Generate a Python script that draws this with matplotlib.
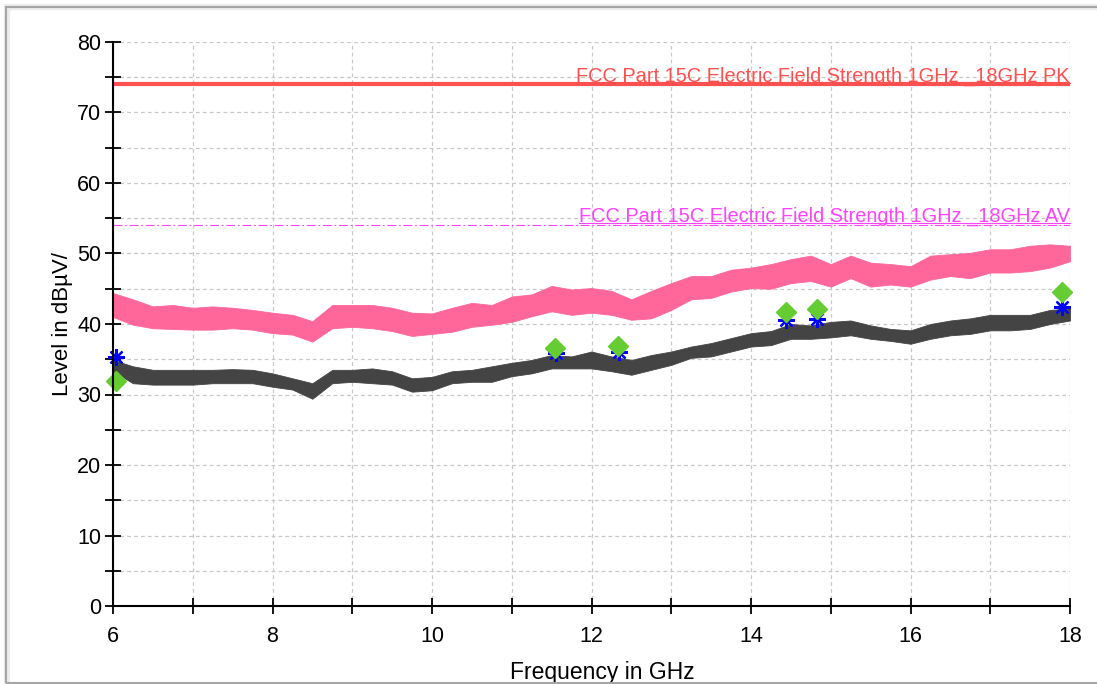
import matplotlib
matplotlib.use("Agg")
import matplotlib.pyplot as plt
from matplotlib.ticker import MultipleLocator, FuncFormatter
from matplotlib.lines import Line2D
from matplotlib.patches import Rectangle

plt.rcParams['font.family'] = ['Liberation Sans', 'DejaVu Sans']

# ---------------- data ----------------
freq = [6.0, 6.25, 6.5, 6.75, 7.0, 7.25, 7.5, 7.75, 8.0, 8.25, 8.5, 8.75,
        9.0, 9.25, 9.5, 9.75, 10.0, 10.25, 10.5, 10.75, 11.0, 11.25, 11.5, 11.75,
        12.0, 12.25, 12.5, 12.75, 13.0, 13.25, 13.5, 13.75, 14.0, 14.25, 14.5, 14.75,
        15.0, 15.25, 15.5, 15.75, 16.0, 16.25, 16.5, 16.75, 17.0, 17.25, 17.5, 17.75, 18.0]

pk_hi = [44.4, 43.5, 42.5, 42.7, 42.3, 42.5, 42.3, 42.0, 41.6, 41.3, 40.4, 42.7,
         42.7, 42.7, 42.3, 41.6, 41.5, 42.3, 43.0, 42.7, 43.9, 44.2, 45.4, 44.9,
         45.1, 44.7, 43.5, 44.7, 45.8, 46.8, 46.8, 47.7, 48.0, 48.5, 49.2, 49.7,
         48.5, 49.7, 48.7, 48.5, 48.2, 49.7, 49.9, 50.1, 50.6, 50.6, 51.1, 51.3, 51.1]
pk_lo = [41.0, 39.9, 39.4, 39.3, 39.2, 39.2, 39.4, 39.2, 38.7, 38.5, 37.5, 39.4,
         39.6, 39.4, 39.0, 38.3, 38.6, 38.9, 39.6, 39.9, 40.3, 41.1, 41.8, 41.3,
         41.6, 41.3, 40.6, 40.8, 42.0, 43.5, 43.7, 44.6, 45.1, 45.0, 45.8, 46.1,
         45.3, 46.5, 45.3, 45.6, 45.3, 46.3, 46.8, 46.5, 47.3, 47.3, 47.5, 48.0, 48.9]
av_hi = [34.9, 34.0, 33.5, 33.5, 33.5, 33.5, 33.6, 33.5, 33.0, 32.3, 31.6, 33.5,
         33.5, 33.7, 33.3, 32.3, 32.5, 33.3, 33.5, 34.0, 34.5, 34.9, 35.6, 35.4,
         36.1, 35.4, 34.9, 35.6, 36.1, 36.8, 37.3, 38.0, 38.7, 39.0, 40.0, 39.8,
         40.3, 40.5, 39.8, 39.3, 39.1, 40.0, 40.5, 40.8, 41.3, 41.3, 41.3, 42.0, 42.2]
av_lo = [33.3, 31.6, 31.4, 31.4, 31.4, 31.6, 31.6, 31.6, 31.1, 30.7, 29.4, 31.6,
         31.8, 31.6, 31.4, 30.4, 30.6, 31.6, 31.8, 31.8, 32.6, 33.0, 33.7, 33.7,
         33.7, 33.3, 32.8, 33.5, 34.2, 35.2, 35.4, 36.1, 36.8, 37.0, 37.9, 37.9,
         38.1, 38.4, 37.9, 37.6, 37.2, 37.9, 38.4, 38.6, 39.1, 39.1, 39.3, 40.0, 40.5]

pk_mark_f = [6.04, 11.54, 12.33, 14.44, 14.83, 17.90]
pk_mark_v = [31.9, 36.6, 36.9, 41.7, 42.1, 44.5]
av_mark_f = [6.04, 11.56, 12.35, 14.44, 14.83, 17.90]
av_mark_v = [35.3, 35.9, 36.0, 40.6, 40.7, 42.4]

limit_pk = 74.0
limit_av = 54.0
limit_pk_label = "FCC Part 15C Electric Field Strength 1GHz _18GHz PK"
limit_av_label = "FCC Part 15C Electric Field Strength 1GHz _18GHz AV"

x_min, x_max = 6, 18
y_min, y_max = 0, 80

# ---------------- figure ----------------
W, H = 1097, 684
fig = plt.figure(figsize=(W / 100, H / 100), dpi=100)
fig.patch.set_facecolor('white')

# outer frame
fig.add_artist(Rectangle((6.5 / W, -0.5), 2.0, 0.5 + (H - 7) / H, transform=fig.transFigure,
                         facecolor='none', edgecolor='#ececec', lw=4.5, zorder=0))
fig.add_artist(Rectangle((5.5 / W, 1 - 683 / H), 2.0, (683 - 7) / H, transform=fig.transFigure,
                         facecolor='none', edgecolor='#a6a6a6', lw=1.5, zorder=1))

ax = fig.add_axes([113 / W, 1 - 606 / H, (1070 - 113) / W, (606 - 42) / H])
ax.set_xlim(x_min, x_max)
ax.set_ylim(y_min, y_max)

for s in ['top', 'right']:
    ax.spines[s].set_visible(False)
for s in ['left', 'bottom']:
    ax.spines[s].set_linewidth(1.5)
    ax.spines[s].set_zorder(6)

ax.xaxis.set_major_locator(MultipleLocator(1))
ax.yaxis.set_major_locator(MultipleLocator(5))
ax.xaxis.set_major_formatter(FuncFormatter(lambda v, p: f"{int(round(v))}" if int(round(v)) % 2 == 0 else ""))
ax.yaxis.set_major_formatter(FuncFormatter(lambda v, p: f"{int(round(v))}" if int(round(v)) % 10 == 0 else ""))
ax.tick_params(axis='both', direction='inout', length=11, width=1.3, colors='black',
               labelsize=15.5)
ax.tick_params(axis='x', pad=9)
ax.tick_params(axis='y', pad=3)

ax.grid(True, which='major', color='#c8c8c8', linestyle=(0, (3, 2.5)), linewidth=0.9)
ax.set_axisbelow(True)

# traces
ax.fill_between(freq, pk_lo, pk_hi, color='#ff6699', linewidth=0.6, edgecolor='#ff6699', zorder=3)
ax.fill_between(freq, av_lo, av_hi, color='#444444', linewidth=0.6, edgecolor='#444444', zorder=3)

# limit lines
ax.axhline(limit_pk, color='#ff5050', linewidth=3, zorder=4)
av_line = ax.axhline(limit_av, color='#ff44ff', linewidth=0.8, zorder=4)
av_line.set_dashes([8, 2.5, 1.5, 2.5])

# markers
ax.plot(av_mark_f, av_mark_v, linestyle='none', marker=(8, 2, 0), markersize=12,
        markeredgewidth=1.6, color='#0000ff', zorder=5, clip_on=False)
ax.plot(pk_mark_f, pk_mark_v, linestyle='none', marker='D', markersize=10.5,
        color='#66cc33', markeredgecolor='#66cc33', zorder=6, clip_on=False)

# limit labels
t1 = ax.annotate(limit_pk_label, xy=(x_max, limit_pk), xytext=(0, 2), textcoords='offset points',
                 ha='right', va='baseline', color='#ff5050', fontsize=14.4, zorder=7)
t2 = ax.annotate(limit_av_label, xy=(x_max, limit_av), xytext=(0, 2.5), textcoords='offset points',
                 ha='right', va='baseline', color='#ff44ff', fontsize=14.4, zorder=7)

ax.set_xlabel("Frequency in GHz", fontsize=16.5, labelpad=10)
ax.xaxis.label.set_x(0.511)
ax.set_ylabel("Level in dBµV/", fontsize=16, labelpad=3)

# underline the limit labels
fig.canvas.draw()
r = fig.canvas.get_renderer()
for t, c in [(t1, '#ff5050'), (t2, '#ff44ff')]:
    bb = t.get_window_extent(renderer=r)
    x0, x1 = bb.x0, bb.x1
    yb = bb.y0 + 3
    inv = fig.transFigure.inverted()
    (fx0, fy), (fx1, _) = inv.transform([(x0, yb), (x1, yb)])
    fig.add_artist(Line2D([fx0, fx1], [fy, fy], color=c, lw=0.8, transform=fig.transFigure, zorder=7))

fig.savefig("out.png", dpi=100)
